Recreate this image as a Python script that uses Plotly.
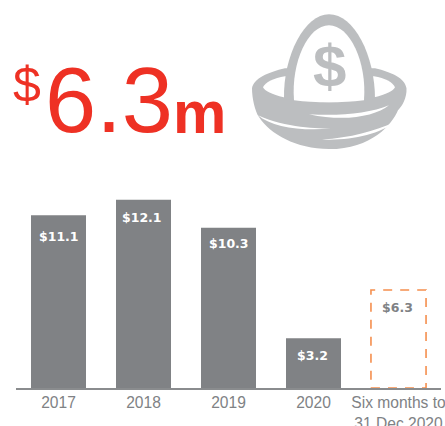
import re
import plotly.graph_objects as go

W, H = 445, 426
categories = ["2017", "2018", "2019", "2020", "Six months to<br>31 Dec 2020"]
solid_values = [11.1, 12.1, 10.3, 3.2]
projected_value = 6.3
value_labels = ["$11.1", "$12.1", "$10.3", "$3.2", "$6.3"]
label_offsets = [-21, -18, -16, -17, -18]
label_xshift = [0, -2, 0, -1.5, -1]

GREY = "#808285"
ICON = "#BCBEC0"
RED = "#EE3124"
ORANGE = "#F58F4E"

L, R, T, B = 16, 4, 170, 37.5
YMAX = (H - B - T) / 15.6
PW, PH = W - L - R, H - T - B


def P(path):
    def sub(m):
        x, y = float(m.group(1)), float(m.group(2))
        return f"{(x - L) / PW:.5f},{(H - B - y) / PH:.5f}"
    return re.sub(r"(-?[\d.]+),(-?[\d.]+)", sub, path)


def icon(path, color):
    return dict(type="path", xref="paper", yref="paper", path=P(path),
                fillcolor=color, line=dict(width=0), layer="above")


icon_paths = [
    ("M252,88 C254,78 268,72 285,68 L375,68 C392,72 405,78 406.5,88 C407,98 402,106 398,110 "
     "C392,124 372,149 329,149 C296,149 270,134 259,117 C255,111 252,98 252,88 Z", ICON),
    ("M263,87 C265,82 274,78 285,76 L374,76 C385,78 393,82 395,87 C392,94 365,102 329,102 "
     "C293,102 266,94 263,87 Z", "white"),
    ("M284,99 C283,55 305,14 329,14 C354,14 375,55 375,99 C360,101 345,102 329,102 "
     "C313,102 298,101 284,99 Z", ICON),
    ("M294,100 C291,62 308,25 329,25 C350,25 367,62 364,100 C352,101.5 340,102 329,102 "
     "C317,102 305,101.5 294,100 Z", "white"),
    ("M309,114 C340,116 370,113 389,105 C375,116 345,122 309,114 Z", "white"),
    ("M258,115 C285,128 320,128 331,128.5 C300,131 272,127 258,115 Z", "white"),
    ("M322,139.5 C350,138 375,131 395,122 C380,134 350,141 322,139.5 Z", "white"),
]

fig = go.Figure()
fig.add_bar(x=categories[:4], y=solid_values, marker=dict(color=GREY, line=dict(width=0)),
            hoverinfo="skip")
fig.add_bar(x=categories[4:], y=[projected_value], marker=dict(color="rgba(0,0,0,0)", line=dict(width=0)),
            hoverinfo="skip")

all_values = solid_values + [projected_value]
annotations = []
for i, (v, lab, dy, dx) in enumerate(zip(all_values, value_labels, label_offsets, label_xshift)):
    annotations.append(dict(x=i, y=v, text=f"<b>{lab}</b>", showarrow=False,
                            yshift=dy, xshift=dx, yanchor="middle",
                            font=dict(family="DejaVu Sans", size=12.5,
                                      color="white" if i < 4 else GREY)))


def head(x, y, text, size, bold=False, color=RED):
    return dict(xref="paper", yref="paper", x=(x - L) / PW, y=(H - B - y) / PH,
                xanchor="left", yanchor="middle", showarrow=False, align="left",
                text=f"<b>{text}</b>" if bold else text,
                font=dict(family="Liberation Sans", size=size, color=color))


annotations += [
    head(11, 85, "$", 50),
    head(43, 100, "6.3", 92),
    head(171, 112, "m", 60, bold=True),
    dict(xref="paper", yref="paper", x=(329 - L) / PW, y=(H - B - 66) / PH, showarrow=False,
         xanchor="center", yanchor="middle", text="<b>$</b>",
         font=dict(family="Liberation Sans", size=60, color=ICON)),
]

shapes = [icon(p, c) for p, c in icon_paths]
shapes.append(dict(type="rect", xref="x", yref="y", x0=4 - 0.324, x1=4 + 0.324, y0=0, y1=projected_value,
                   line=dict(color=ORANGE, width=1.6, dash="9px,8px"), layer="above"))

fig.update_layout(
    width=W, height=H, autosize=False, showlegend=False, barmode="overlay",
    margin=dict(l=L, r=R, t=T, b=B, autoexpand=False), bargap=0.353,
    paper_bgcolor="white", plot_bgcolor="white",
    annotations=annotations, shapes=shapes,
    xaxis=dict(type="category", categoryorder="array", categoryarray=categories, range=[-0.5, 4.5],
               showline=True, linecolor="#8A8C8E", linewidth=1.5, ticks="", showgrid=False,
               zeroline=False, tickangle=0, ticklen=0, automargin=False,
               tickfont=dict(family="Liberation Sans", size=15.6, color="#808285")),
    yaxis=dict(range=[0, YMAX], visible=False, showgrid=False, zeroline=False),
)
fig.write_html("out.html", config=dict(displayModeBar=False),
               post_script="document.body.style.margin='0';document.body.style.overflow='hidden';window.dispatchEvent(new Event('resize'));")
